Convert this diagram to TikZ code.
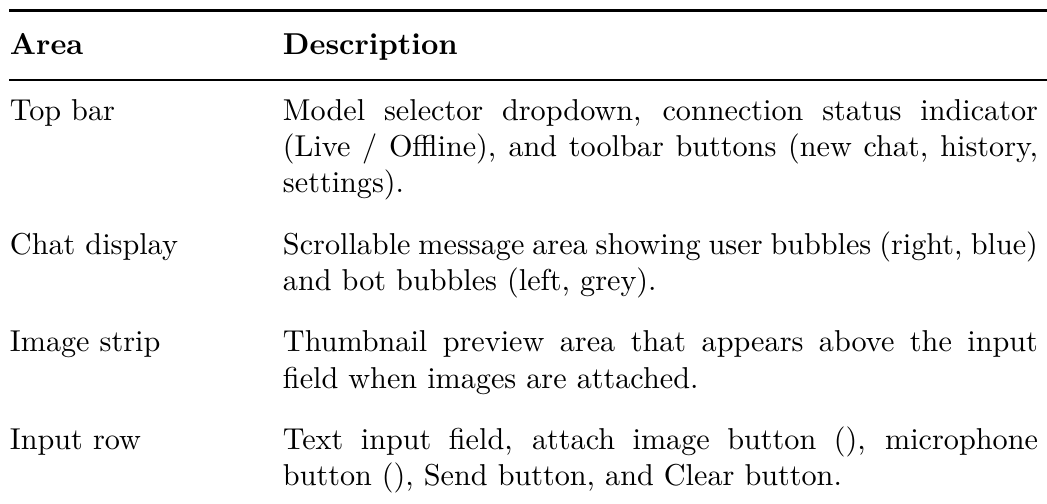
\documentclass[tikz,border=0pt]{standalone}
\usepackage{fontspec}
\newcommand{\descbox}[1]{\parbox[t]{250pt}{\hyphenpenalty=10000\exhyphenpenalty=10000 #1}}
\begin{document}
\begin{tikzpicture}[x=1pt,y=-1pt,
  cell/.style={anchor=base west, inner sep=0pt, outer sep=0pt},
  heavyrule/.style={line width=0.8pt},
  lightrule/.style={line width=0.5pt}]
\useasboundingbox (0,0) rectangle (346.7,166.6);
% rules
\coordinate (tl) at (3.0,3.5);
\coordinate (tr) at (346.7,3.5);
\coordinate (ml) at (3.0,26.5);
\coordinate (mr) at (346.7,26.5);
\draw[heavyrule] (tl) -- (tr);
\draw[lightrule] (ml) -- (mr);
% header
\node[cell] (h1) at (3.3,18.2) {\textbf{Area}};
\node[cell] (h2) at (93.7,18.2) {\textbf{Description}};
% rows
\node[cell] (a1) at (3.3,39.8) {Top bar};
\node[cell] (d1) at (93.7,39.8) {\descbox{Model selector dropdown, connection status indicator (Live / Offline), and toolbar buttons (new chat, history, settings).}};
\node[cell] (a2) at (3.3,84.2) {Chat display};
\node[cell] (d2) at (93.7,84.2) {\descbox{Scrollable message area showing user bubbles (right, blue) and bot bubbles (left, grey).}};
\node[cell] (a3) at (3.3,116.5) {Image strip};
\node[cell] (d3) at (93.7,116.5) {\descbox{Thumbnail preview area that appears above the input field when images are attached.}};
\node[cell] (a4) at (3.3,148.8) {Input row};
\node[cell] (d4) at (93.7,148.8) {\descbox{Text input field, attach image button (), microphone button (), Send button, and Clear button.}};
\end{tikzpicture}
\end{document}
